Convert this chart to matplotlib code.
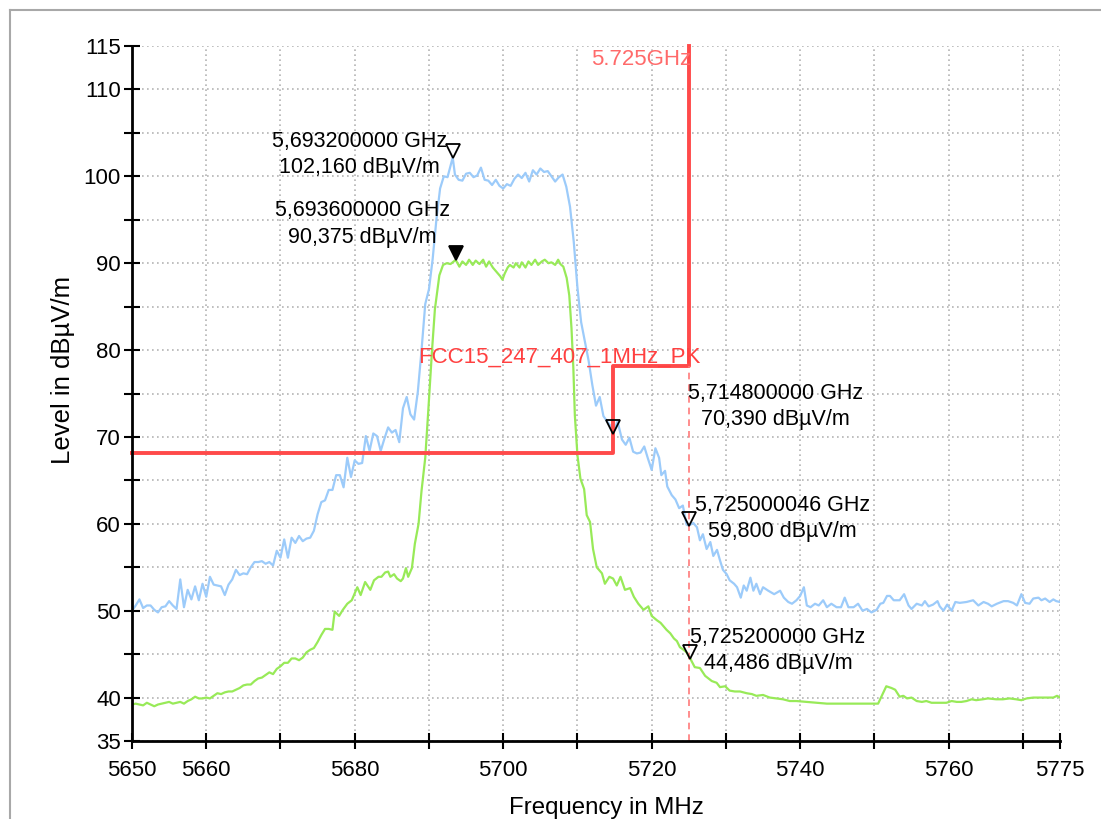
import matplotlib
matplotlib.use('Agg')
import matplotlib.pyplot as plt
from matplotlib.lines import Line2D
from matplotlib.transforms import ScaledTranslation

plt.rcParams['font.family'] = ['Liberation Sans', 'DejaVu Sans']

# peak trace (blue)
blue_freq = [5650.0, 5650.5, 5651.0, 5651.5, 5652.0, 5652.5, 5653.0, 5653.5, 5654.0, 5654.5,
             5655.0, 5655.5, 5656.0, 5656.5, 5657.0, 5657.5, 5658.0, 5658.5, 5659.0, 5659.5,
             5660.0, 5660.5, 5661.0, 5661.5, 5662.0, 5662.5, 5663.0, 5663.5, 5664.0, 5664.5,
             5665.0, 5665.5, 5666.0, 5666.5, 5667.0, 5667.5, 5668.0, 5668.5, 5669.0, 5669.5,
             5670.0, 5670.5, 5671.0, 5671.5, 5672.0, 5672.5, 5673.0, 5673.5, 5674.0, 5674.5,
             5675.0, 5675.5, 5676.0, 5676.5, 5677.0, 5677.5, 5678.0, 5678.5, 5679.0, 5679.5,
             5680.0, 5680.5, 5681.0, 5681.5, 5682.0, 5682.5, 5683.0, 5683.5, 5684.0, 5684.5,
             5685.0, 5685.5, 5686.0, 5686.5, 5687.0, 5687.5, 5688.0, 5688.5, 5689.0, 5689.5,
             5690.0, 5690.5, 5691.0, 5691.5, 5692.0, 5692.5, 5693.2, 5693.5, 5694.0, 5694.5,
             5695.0, 5695.5, 5696.0, 5696.5, 5697.0, 5697.5, 5698.0, 5698.5, 5699.0, 5699.5,
             5700.0, 5700.5, 5701.0, 5701.5, 5702.0, 5702.5, 5703.0, 5703.5, 5704.0, 5704.5,
             5705.0, 5705.5, 5706.0, 5706.5, 5707.0, 5707.5, 5708.0, 5708.5, 5709.0, 5709.5,
             5710.0, 5710.5, 5711.0, 5711.5, 5712.0, 5712.5, 5713.0, 5713.5, 5714.0, 5714.5,
             5714.8, 5715.4, 5716.0, 5716.5, 5717.0, 5717.5, 5718.0, 5718.5, 5719.0, 5719.5,
             5720.0, 5720.5, 5721.0, 5721.3, 5721.8, 5722.1, 5722.7, 5723.2, 5723.7, 5724.2,
             5724.7, 5725.0, 5725.6, 5726.1, 5726.5, 5726.9, 5727.4, 5727.9, 5728.3, 5728.8,
             5729.2, 5729.6, 5730.1, 5730.5, 5731.1, 5731.5, 5732.0, 5732.4, 5732.8, 5733.3,
             5733.7, 5734.1, 5734.6, 5735.0, 5735.7, 5736.5, 5737.3, 5737.8, 5738.4, 5738.9,
             5739.5, 5740.0, 5740.5, 5740.9, 5741.4, 5742.0, 5742.5, 5743.1, 5743.6, 5744.2,
             5744.9, 5745.5, 5746.0, 5746.5, 5747.2, 5747.8, 5748.4, 5749.0, 5749.6, 5750.3,
             5750.8, 5751.2, 5751.7, 5752.1, 5752.6, 5753.4, 5754.0, 5754.6, 5755.0, 5755.7,
             5756.4, 5756.8, 5757.3, 5757.9, 5758.5, 5758.8, 5759.3, 5759.8, 5760.4, 5760.9,
             5761.5, 5762.4, 5763.3, 5764.0, 5764.7, 5765.3, 5765.8, 5766.5, 5767.4, 5768.0,
             5768.7, 5769.2, 5769.8, 5770.3, 5770.9, 5771.4, 5772.1, 5772.5, 5773.0, 5773.6,
             5774.1, 5774.5, 5775.0]
blue_level = [50.0, 50.6, 51.3, 50.3, 50.6, 50.6, 50.1, 49.8, 50.4, 50.5,
              51.1, 50.6, 50.2, 53.6, 50.4, 52.4, 51.3, 52.8, 51.2, 53.1,
              51.6, 53.9, 53.0, 52.9, 52.8, 51.8, 53.0, 53.6, 54.7, 54.1,
              54.3, 54.2, 55.0, 55.6, 55.6, 55.7, 55.4, 55.6, 55.2, 56.9,
              56.1, 58.2, 56.1, 58.4, 57.8, 58.6, 58.0, 58.3, 58.4, 59.2,
              61.1, 62.5, 62.7, 63.9, 63.9, 65.6, 65.6, 64.2, 67.6, 65.4,
              67.3, 66.9, 67.0, 70.1, 68.4, 70.4, 70.1, 68.4, 69.8, 71.1,
              70.5, 70.8, 69.4, 73.3, 74.6, 72.6, 72.0, 75.2, 80.0, 85.3,
              87.0, 90.5, 95.0, 98.6, 100.0, 99.9, 102.16, 100.2, 99.6, 99.5,
              100.3, 100.4, 99.9, 100.1, 101.0, 99.6, 99.5, 99.0, 99.6, 98.9,
              98.6, 99.1, 98.9, 99.7, 100.2, 99.8, 100.4, 99.4, 100.7, 100.2,
              100.9, 100.5, 100.6, 100.0, 99.4, 99.9, 100.2, 98.8, 96.5, 92.5,
              87.2, 83.2, 81.0, 78.8, 76.0, 73.6, 74.6, 72.4, 71.8, 71.2,
              70.39, 71.8, 69.7, 69.1, 69.9, 68.3, 68.1, 68.2, 68.9, 67.5,
              66.2, 68.7, 67.6, 65.6, 66.1, 64.3, 63.3, 62.8, 61.8, 62.1,
              59.9, 59.8, 60.1, 59.6, 58.1, 58.8, 57.1, 57.9, 56.3, 57.0,
              55.8, 54.7, 54.2, 53.5, 53.1, 52.7, 51.5, 52.9, 52.3, 53.8,
              52.3, 53.1, 51.9, 52.7, 52.3, 51.9, 52.3, 51.5, 51.0, 50.8,
              51.2, 51.7, 52.7, 50.6, 50.4, 50.8, 50.6, 51.2, 50.4, 50.8,
              50.4, 50.4, 51.5, 50.4, 50.4, 50.8, 50.0, 50.2, 49.8, 50.1,
              50.8, 50.9, 51.7, 51.7, 51.2, 51.2, 51.9, 50.6, 50.2, 50.8,
              50.6, 51.1, 50.5, 50.7, 51.1, 50.5, 50.0, 50.7, 50.0, 51.0,
              50.9, 51.0, 51.2, 50.6, 51.0, 50.8, 50.5, 50.8, 51.1, 51.1,
              50.9, 50.6, 51.9, 50.9, 50.8, 51.4, 51.5, 51.2, 51.4, 51.0,
              51.3, 51.1, 51.0]

# average trace (green)
green_freq = [5650.0, 5650.5, 5651.0, 5651.5, 5652.0, 5652.5, 5653.0, 5653.5, 5654.0, 5654.5,
              5655.0, 5655.5, 5656.0, 5656.5, 5657.0, 5657.5, 5658.0, 5658.5, 5659.0, 5659.5,
              5660.0, 5660.5, 5661.0, 5661.5, 5662.0, 5662.5, 5663.0, 5663.5, 5664.0, 5664.5,
              5665.0, 5665.5, 5666.0, 5666.5, 5667.0, 5667.5, 5668.0, 5668.5, 5669.0, 5669.5,
              5670.0, 5670.5, 5671.0, 5671.5, 5672.0, 5672.5, 5673.0, 5673.5, 5674.0, 5674.5,
              5675.0, 5675.5, 5676.0, 5676.5, 5677.0, 5677.3, 5677.9, 5678.4, 5679.0, 5679.6,
              5680.0, 5680.35, 5680.8, 5681.4, 5682.1, 5682.6, 5683.2, 5683.6, 5684.1, 5684.5,
              5684.8, 5685.3, 5685.7, 5686.2, 5686.5, 5686.9, 5687.2, 5687.7, 5688.1, 5688.6,
              5689.0, 5689.5, 5689.9, 5690.4, 5690.8, 5691.4, 5691.9, 5692.4, 5692.9, 5693.6,
              5694.1, 5694.5, 5695.0, 5695.4, 5695.9, 5696.3, 5696.8, 5697.3, 5697.7, 5698.1,
              5698.6, 5699.0, 5699.6, 5699.9, 5700.2, 5700.6, 5700.9, 5701.4, 5701.7, 5702.2,
              5702.5, 5703.0, 5703.4, 5703.8, 5704.3, 5704.7, 5705.2, 5705.6, 5706.1, 5706.5,
              5707.0, 5707.4, 5707.7, 5708.1, 5708.55, 5708.9, 5709.2, 5709.45, 5709.65, 5710.0,
              5710.4, 5710.9, 5711.25, 5711.7, 5712.1, 5712.6, 5713.3, 5713.7, 5714.3, 5714.8,
              5715.3, 5715.8, 5716.4, 5717.1, 5717.6, 5718.2, 5718.9, 5719.55, 5720.0, 5720.7,
              5721.2, 5722.0, 5722.5, 5723.0, 5723.4, 5723.8, 5724.3, 5724.7, 5725.2, 5725.8,
              5726.5, 5727.2, 5728.1, 5728.75, 5729.2, 5729.9, 5730.5, 5731.2, 5731.9, 5732.8,
              5733.5, 5734.1, 5735.0, 5735.9, 5736.8, 5737.7, 5738.6, 5739.5, 5740.9, 5742.2,
              5743.6, 5744.9, 5746.3, 5748.1, 5749.5, 5750.5, 5751.0, 5751.6, 5752.3, 5752.8,
              5753.4, 5753.9, 5754.4, 5755.0, 5755.7, 5756.4, 5757.0, 5757.7, 5758.8, 5759.7,
              5760.4, 5761.1, 5761.7, 5762.4, 5763.1, 5763.7, 5764.6, 5765.3, 5766.4, 5767.3,
              5768.2, 5769.1, 5769.8, 5770.5, 5771.4, 5772.3, 5773.2, 5774.1, 5774.6, 5775.0]
green_level = [39.2, 39.3, 39.2, 39.1, 39.4, 39.2, 39.0, 39.2, 39.3, 39.4,
               39.5, 39.3, 39.4, 39.5, 39.3, 39.6, 39.8, 40.1, 39.9, 39.9,
               40.0, 39.9, 40.2, 40.5, 40.4, 40.6, 40.7, 40.7, 40.9, 41.1,
               41.4, 41.5, 41.5, 41.9, 42.2, 42.3, 42.6, 42.9, 42.7, 43.3,
               43.6, 44.0, 44.0, 44.5, 44.5, 44.3, 44.6, 45.2, 45.5, 45.7,
               46.4, 47.2, 47.9, 47.9, 47.8, 49.9, 49.4, 50.1, 50.8, 51.2,
               52.0, 52.7, 51.8, 53.3, 52.4, 53.5, 53.9, 53.9, 54.4, 54.5,
               53.9, 54.2, 53.7, 53.4, 53.7, 54.9, 53.9, 54.9, 57.7, 60.0,
               63.8, 67.6, 72.9, 79.8, 84.7, 88.6, 89.8, 90.0, 89.9, 90.375,
               89.6, 90.2, 89.8, 90.4, 89.8, 90.3, 89.9, 90.4, 89.6, 90.2,
               89.5, 89.1, 88.5, 88.1, 88.8, 89.5, 89.8, 89.5, 90.0, 89.5,
               90.1, 89.5, 90.2, 89.8, 90.4, 89.8, 90.2, 90.4, 90.0, 90.1,
               89.8, 90.4, 89.9, 89.6, 88.3, 86.3, 82.5, 77.9, 72.5, 67.9,
               65.2, 64.0, 61.0, 60.2, 57.1, 55.0, 54.3, 53.1, 53.9, 53.7,
               52.9, 53.9, 52.4, 52.6, 51.6, 50.8, 50.1, 50.5, 49.4, 48.9,
               48.6, 47.8, 47.4, 46.8, 46.5, 45.8, 45.5, 45.2, 44.486, 43.5,
               43.4, 42.5, 41.9, 41.7, 41.2, 41.3, 40.8, 40.7, 40.7, 40.5,
               40.4, 40.2, 40.3, 40.0, 39.9, 39.8, 39.6, 39.6, 39.5, 39.4,
               39.3, 39.3, 39.3, 39.3, 39.3, 39.3, 40.2, 41.3, 41.1, 40.9,
               40.1, 40.2, 39.9, 40.0, 39.6, 39.5, 39.6, 39.4, 39.4, 39.4,
               39.6, 39.5, 39.5, 39.6, 39.8, 39.7, 39.8, 39.9, 39.8, 39.8,
               39.9, 39.8, 39.7, 39.9, 40.0, 40.0, 40.0, 40.0, 40.2, 40.0]

# FCC 15.247 limit mask
limit_freq = [5650.0, 5714.8, 5714.8, 5725.0, 5725.0]
limit_level = [68.2, 68.2, 78.2, 78.2, 115.0]
band_edge = 5725.0

# markers: freq, level, text, filled
marker_freq = [5693.2, 5693.6, 5714.8, 5725.0, 5725.2]
marker_level = [102.16, 90.375, 70.39, 59.8, 44.486]
marker_text = ['5,693200000 GHz\n102,160 dBµV/m',
               '5,693600000 GHz\n90,375 dBµV/m',
               '5,714800000 GHz\n70,390 dBµV/m',
               '5,725000046 GHz\n59,800 dBµV/m',
               '5,725200000 GHz\n44,486 dBµV/m']
marker_filled = [False, True, False, False, False]

x_ticks = [5650, 5660, 5670, 5680, 5690, 5700, 5710, 5720, 5730, 5740, 5750, 5760, 5770, 5775]
x_labels = ['5650', '5660', '', '5680', '', '5700', '', '5720', '', '5740', '', '5760', '', '5775']
y_ticks = list(range(35, 116, 5))
y_labels = ['35', '40', '', '50', '', '60', '', '70', '', '80', '', '90', '', '100', '', '110', '115']

fig = plt.figure(figsize=(11.01, 8.19), dpi=100)
ax = fig.add_axes([132 / 1101, 1 - 741 / 819, 928 / 1101, 695 / 819])

ax.plot(blue_freq, blue_level, color='#9ccbfa', lw=1.6, zorder=3)
ax.plot(green_freq, green_level, color='#98ea58', lw=1.6, zorder=3)

ax.plot(limit_freq, limit_level, color='#ff4a4a', lw=2.8, zorder=4, clip_on=False)
ax.plot([band_edge, band_edge], [35, 78.2], color='#ff7a7a', lw=1.2,
        dashes=(4, 3), zorder=4)
ax.text(5688.5, 78.6, 'FCC15_247_407_1MHz_PK', color='#ff4040', fontsize=16,
        ha='left', va='baseline', zorder=5)
ax.text(band_edge + 0.35, 113.4, '5.725GHz', color='#ff6a6a', fontsize=16,
        ha='right', va='center', zorder=5)

# triangles sit above the point, tip on the trace
tri = ax.transData + ScaledTranslation(0, 6.5 / 100, fig.dpi_scale_trans)
text_off = [(-6, 3), (-6, 36), (75, 27), (6, 7), (0, 8)]
text_ha = ['right', 'right', 'left', 'left', 'left']
for f, v, t, filled, off, ha in zip(marker_freq, marker_level, marker_text,
                                   marker_filled, text_off, text_ha):
    ax.plot(f, v, marker='v', ms=9.5, mew=1.3, mec='black',
            mfc='black' if filled else 'none', transform=tri, zorder=6,
            clip_on=False)
    ax.annotate(t, xy=(f, v), xytext=off, textcoords='offset pixels',
                ha=ha, va='center', multialignment='center', fontsize=15.5,
                linespacing=1.35, zorder=7)

ax.set_xlim(5650, 5775)
ax.set_ylim(35, 115)
ax.set_xticks(x_ticks)
ax.set_xticklabels(x_labels)
ax.set_yticks(y_ticks)
ax.set_yticklabels(y_labels)
ax.tick_params(direction='inout', length=12, width=1.5, labelsize=16)
ax.tick_params(axis='x', pad=8)
ax.tick_params(axis='y', pad=2)
ax.grid(True, color='#b4b4b4', lw=1.2, linestyle=(0, (1, 2)))
ax.set_axisbelow(True)
for side in ['top', 'right']:
    ax.spines[side].set_visible(False)
for side in ['left', 'bottom']:
    ax.spines[side].set_linewidth(2)
    ax.spines[side].set_zorder(5)

ax.set_xlabel('Frequency in MHz', fontsize=17.3)
ax.xaxis.set_label_coords((606 - 132) / 928, -(797 - 741) / 695)
ax.set_ylabel('Level in dBµV/m', fontsize=18.5)
ax.yaxis.set_label_coords(-(132 - 75) / 928, (741 - 370) / 695)

# outer frame
fig.add_artist(Line2D([10 / 1101, 1], [1 - 10 / 819, 1 - 10 / 819], color='#a8a8a8', lw=1.5))
fig.add_artist(Line2D([10 / 1101, 10 / 1101], [0, 1 - 10 / 819], color='#a8a8a8', lw=1.5))

fig.savefig('out.png', dpi=100, facecolor='white')
